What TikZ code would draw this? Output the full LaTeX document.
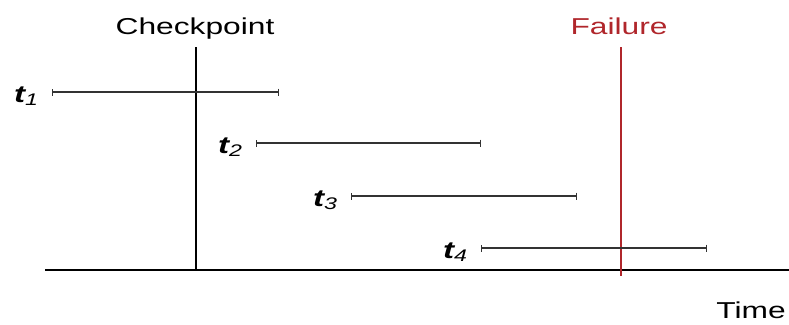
\documentclass[tikz,border=0pt]{standalone}
\usepackage{fontspec}
\setmainfont{Liberation Sans}
\usetikzlibrary{arrows.meta}
\definecolor{FailRed}{HTML}{B0262B}
\definecolor{Span}{HTML}{333333}
\newcommand{\wide}[1]{\scalebox{1.38}[1]{#1}}

\begin{document}
\begin{tikzpicture}[x=1pt,y=-1pt,
    lbl/.style={inner sep=0pt,font=\fontsize{23}{26}\selectfont},
    tlbl/.style={lbl,anchor=base east,font=\fontsize{24}{26}\selectfont\bfseries\itshape},
    span/.style={draw=Span,line width=1.2pt,{Bar[width=7pt,line width=1.2pt]}-{Bar[width=7pt,line width=1.2pt]}}]
    \useasboundingbox (0,0) rectangle (789,324);
    % time axis
    \coordinate (ax0) at (45,270);
    \coordinate (ax1) at (789,270);
    \draw[line width=1.4pt] (ax0)--(ax1);
    % checkpoint and failure
    \node[lbl,anchor=base] (ckpt) at (195,34) {\wide{Checkpoint}};
    \coordinate (ck0) at (196,47);
    \coordinate (ck1) at (196,271);
    \draw[line width=1.2pt] (ck0)--(ck1);
    \node[lbl,anchor=base,text=FailRed] (fail) at (619,34) {\wide{Failure}};
    \coordinate (f0) at (621,47);
    \coordinate (f1) at (621,276);
    \draw[FailRed,line width=1.2pt] (f0)--(f1);
    \node[lbl,anchor=base east] (time) at (786,318) {\wide{Time}};
    % tasks
    \foreach \i/\a/\b/\y in {1/52/279/92,2/256/481/143,3/351/577/196,4/481/707/248}{
      \coordinate (s\i) at (\a,\y);
      \coordinate (e\i) at (\b,\y);
      \node[tlbl] (t\i) at ([xshift=-13pt,yshift=-10pt]s\i) {\wide{t\textsubscript{\mdseries\i}}};
      \draw[span] (s\i)--(e\i);
    }
\end{tikzpicture}
\end{document}
